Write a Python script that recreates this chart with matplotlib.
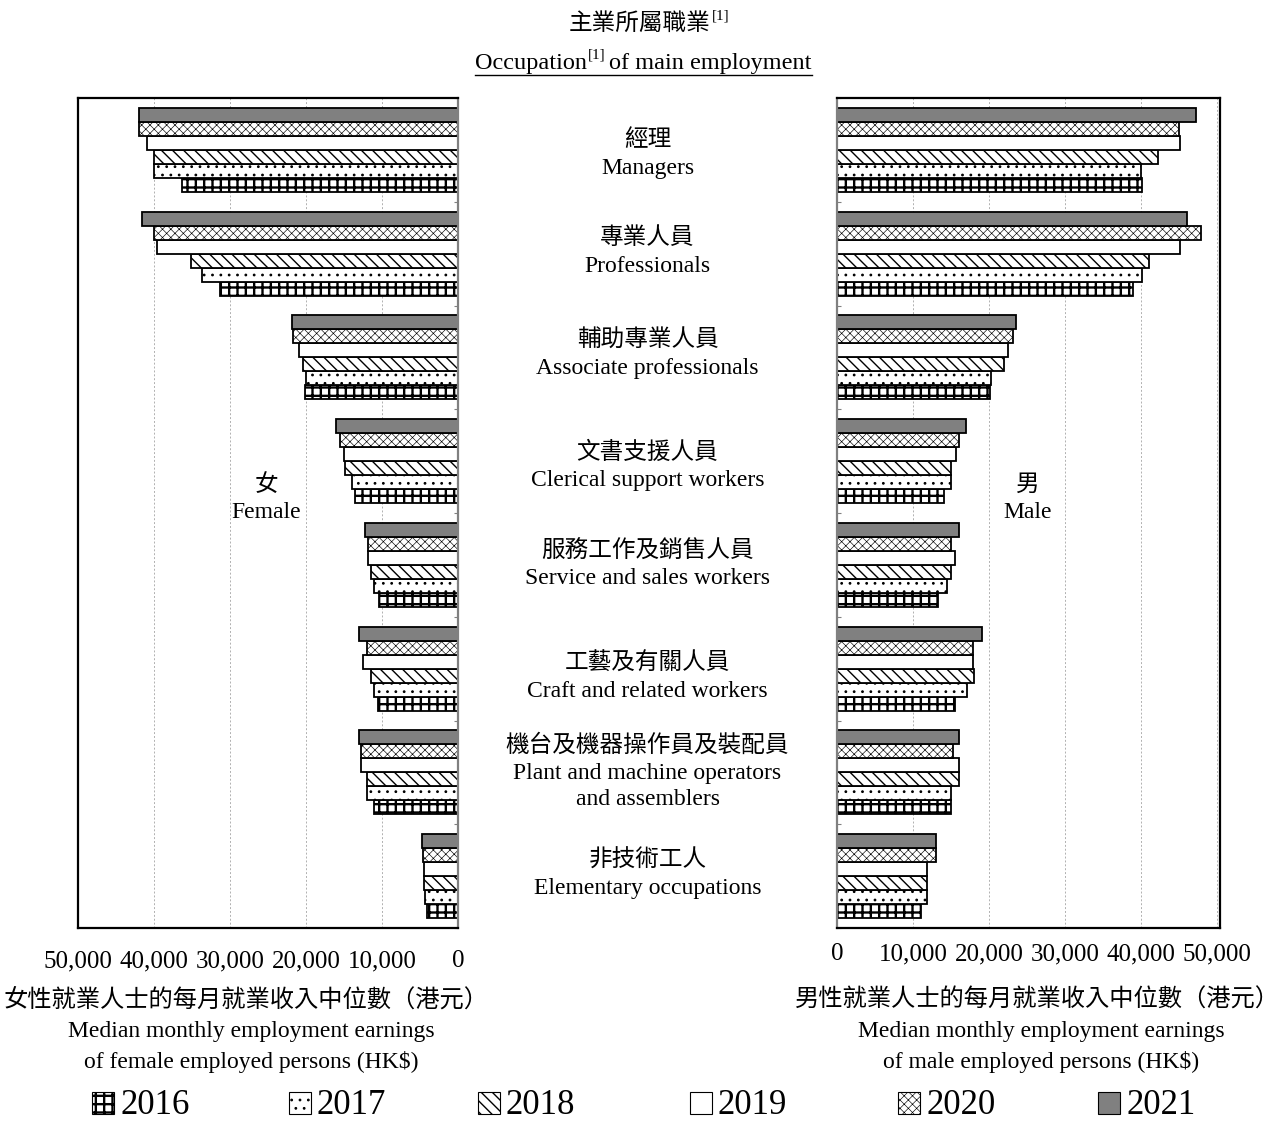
import matplotlib
matplotlib.use('Agg')
import matplotlib.pyplot as plt
from matplotlib.patches import Rectangle
import numpy as np

plt.rcParams['font.family'] = ['Liberation Serif', 'Noto Sans CJK TC']
plt.rcParams['hatch.linewidth'] = 0.8

W, H = 1279, 1124

years = ['2016', '2017', '2018', '2019', '2020', '2021']
occ_zh = ['經理', '專業人員', '輔助專業人員', '文書支援人員', '服務工作及銷售人員',
          '工藝及有關人員', '機台及機器操作員及裝配員', '非技術工人']
occ_en = ['Managers', 'Professionals', 'Associate professionals', 'Clerical support workers',
          'Service and sales workers', 'Craft and related workers',
          'Plant and machine operators\nand assemblers', 'Elementary occupations']

# median monthly earnings (HK$), one list per year, occupations in the order above
female_2016 = [36300, 31300, 20100, 13600, 10400, 10500, 11100, 4100]
female_2017 = [40000, 33700, 20000, 14000, 11000, 11100, 12000, 4300]
female_2018 = [40000, 35100, 20400, 14900, 11500, 11500, 12000, 4500]
female_2019 = [40900, 39600, 20900, 15000, 11900, 12500, 12700, 4500]
female_2020 = [42000, 40000, 21700, 15500, 11900, 12000, 12800, 4600]
female_2021 = [42000, 41600, 21900, 16000, 12200, 13000, 13000, 4700]

male_2016 = [40100, 38900, 20100, 14100, 13300, 15500, 15000, 11000]
male_2017 = [40000, 40100, 20300, 15000, 14500, 17100, 15000, 11900]
male_2018 = [42200, 41100, 22000, 15000, 15000, 18000, 16000, 11900]
male_2019 = [45100, 45100, 22500, 15700, 15500, 17900, 16000, 11900]
male_2020 = [45000, 47900, 23100, 16000, 15000, 17900, 15200, 13000]
male_2021 = [47200, 46100, 23500, 17000, 16000, 19100, 16000, 13000]

female = [female_2016, female_2017, female_2018, female_2019, female_2020, female_2021]
male = [male_2016, male_2017, male_2018, male_2019, male_2020, male_2021]

ticks = [0, 10000, 20000, 30000, 40000, 50000]
tick_labels = ['0', '10,000', '20,000', '30,000', '40,000', '50,000']

# bar styles per year: facecolor, hatch, hatch linewidth
styles = {
    '2016': dict(fc='white', hatch='++', hlw=1.7),
    '2017': dict(fc='white', hatch='..', hlw=0.8),
    '2018': dict(fc='white', hatch='\\\\\\', hlw=1.0),
    '2019': dict(fc='white', hatch=None, hlw=0.8),
    '2020': dict(fc='white', hatch='xxxx', hlw=0.45),
    '2021': dict(fc='#808080', hatch=None, hlw=0.8),
}


def px(x, y):
    return x / W, 1 - y / H


def make_bars(ax, values, y, height, st):
    with plt.rc_context({'hatch.linewidth': st['hlw']}):
        bars = ax.barh(y, values, height=height, color=st['fc'], edgecolor='black',
                       linewidth=1.3, hatch=st['hatch'])
    for b in bars:
        if hasattr(b, 'set_hatch_linewidth'):
            b.set_hatch_linewidth(st['hlw'])
    return bars


fig = plt.figure(figsize=(W / 100, H / 100), dpi=100)
ax_f = fig.add_axes([78 / W, 1 - 928 / H, (458 - 78) / W, (928 - 98) / H])
ax_m = fig.add_axes([837 / W, 1 - 928 / H, (1220 - 837) / W, (928 - 98) / H])

n = len(occ_zh)
bar_h = 0.135
base = np.arange(n) + 0.5
for ax, data in ((ax_f, female), (ax_m, male)):
    for k, yr in enumerate(years):
        # 2021 on top, 2016 at the bottom of each group
        y = base + (2.5 - k) * bar_h
        make_bars(ax, data[k], y, bar_h, styles[yr])
    ax.set_ylim(n, 0)
    ax.set_yticks(np.arange(n + 1))
    ax.set_yticklabels([])
    ax.tick_params(axis='y', length=3, color='#808080', direction='in')
    ax.tick_params(axis='x', length=0, labelsize=18)
    ax.set_xticks(ticks)
    ax.set_xticklabels(tick_labels)
    ax.grid(axis='x', color='#b0b0b0', linestyle=(0, (2, 2)), linewidth=0.7)
    ax.set_axisbelow(True)
    for s in ax.spines.values():
        s.set_linewidth(1.6)
        s.set_color('black')

ax_f.set_xlim(50000, 0)
ax_m.set_xlim(0, 50400)
ax_f.yaxis.tick_right()
ax_f.spines['right'].set_color('#808080')
ax_m.spines['left'].set_color('#808080')
ax_f.tick_params(axis='x', pad=16)
ax_m.tick_params(axis='x', pad=11)

# occupation labels between the two panels
zh_y = [140, 238, 340, 452, 550, 663, 745, 860]
for i in range(n):
    fig.text(*px(647.5, zh_y[i]), occ_zh[i], ha='center', va='center',
             fontsize=17, family='Noto Sans CJK TC')
    fig.text(*px(647.5, zh_y[i] + 18), occ_en[i], ha='center', va='top',
             fontsize=17, linespacing=1.3)

fig.text(*px(266, 484), '女', ha='center', va='center', fontsize=17, family='Noto Sans CJK TC')
fig.text(*px(266, 513), 'Female', ha='center', va='center', fontsize=17)
fig.text(*px(1028, 484), '男', ha='center', va='center', fontsize=17, family='Noto Sans CJK TC')
fig.text(*px(1028, 513), 'Male', ha='center', va='center', fontsize=17)

# titles with superscript note markers
fig.canvas.draw()
rend = fig.canvas.get_renderer()
t1 = fig.text(*px(640, 23), '主業所屬職業', ha='center', va='center', fontsize=17,
              family='Noto Sans CJK TC')
t2 = fig.text(*px(640, 63), 'Occupation', ha='right', va='center', fontsize=17.5)
bb1 = t1.get_window_extent(rend)
fig.text((bb1.x1 + 1) / W, 1 - 16 / H, '[1]', ha='left', va='center', fontsize=11)
# place the English title so the whole line is centred
full = fig.text(0, 0, 'Occupation[1] of main employment', fontsize=17.5)
wfull = full.get_window_extent(rend).width
full.remove()
x0 = 649 - wfull / 2
t2.set_ha('left')
t2.set_position((x0 / W, 1 - 63 / H))
bb2 = t2.get_window_extent(rend)
sup = fig.text((bb2.x1 + 1) / W, 1 - 55 / H, '[1]', ha='left', va='center', fontsize=11)
bbs = sup.get_window_extent(rend)
t3 = fig.text((bbs.x1 + 4) / W, 1 - 63 / H, 'of main employment', ha='left', va='center',
              fontsize=17.5)
bb3 = t3.get_window_extent(rend)
fig.add_artist(plt.Line2D([bb2.x0 / W, bb3.x1 / W], [1 - 75 / H, 1 - 75 / H],
                          color='black', linewidth=1.0))

# axis titles under each panel
fig.text(*px(246, 1000), '女性就業人士的每月就業收入中位數（港元）', ha='center', va='center',
         fontsize=17.5, family='Noto Sans CJK TC')
fig.text(*px(251, 1032), 'Median monthly employment earnings', ha='center', va='center', fontsize=17)
fig.text(*px(251, 1062), 'of female employed persons (HK$)', ha='center', va='center', fontsize=17)
fig.text(*px(1037, 1000), '男性就業人士的每月就業收入中位數（港元）', ha='center', va='center',
         fontsize=17.5, family='Noto Sans CJK TC')
fig.text(*px(1041, 1032), 'Median monthly employment earnings', ha='center', va='center', fontsize=17)
fig.text(*px(1041, 1062), 'of male employed persons (HK$)', ha='center', va='center', fontsize=17)

# legend row
leg_x = [92, 289, 478, 690, 898, 1098]
for xk, yr in zip(leg_x, years):
    st = styles[yr]
    with plt.rc_context({'hatch.linewidth': st['hlw']}):
        r = Rectangle(px(xk, 1114), 22 / W, 22 / H, transform=fig.transFigure,
                      facecolor=st['fc'], edgecolor='black', linewidth=0.8, hatch=st['hatch'])
    if hasattr(r, 'set_hatch_linewidth'):
        r.set_hatch_linewidth(st['hlw'])
    fig.add_artist(r)
    fig.text(*px(xk + 28, 1122), yr, ha='left', va='bottom', fontsize=25)

fig.savefig('out.png', dpi=100, facecolor='white')
